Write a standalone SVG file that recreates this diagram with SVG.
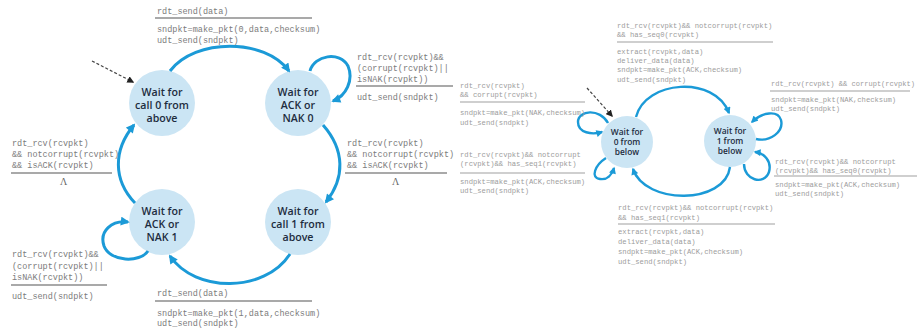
<svg xmlns="http://www.w3.org/2000/svg" width="918" height="331" viewBox="0 0 918 331">
  <style>
    .state { fill: #cbe5f4; }
    .sname { font-family: "Open Sans", "Liberation Sans", sans-serif; font-weight: 600; fill: #1e2c3e; text-anchor: middle; }
    .big { font-size: 10.6px; }
    .small { font-size: 8.4px; }
    .edge { fill: none; stroke: #1b9ad7; stroke-width: 3; }
    .edge2 { fill: none; stroke: #1b9ad7; stroke-width: 2.4; }
    .init { fill: none; stroke: #444; stroke-width: 1.2; stroke-dasharray: 3 2; }
    .lbl { font-family: "Liberation Mono", "DejaVu Sans Mono", monospace; font-size: 8.5px; fill: #7c7c7c; }
    .lbl2 { font-family: "Liberation Mono", "DejaVu Sans Mono", monospace; font-size: 7.2px; fill: #9c9c9c; }
    .rule { stroke: #8c8c8c; stroke-width: 1.3; }
    .rule2 { stroke: #a0a0a0; stroke-width: 1.1; }
    .lam { font-family: "Liberation Serif", serif; font-size: 10px; fill: #666; }
  </style>
  <defs>
    <marker id="ah" viewBox="0 0 10 10" refX="8" refY="5" markerWidth="10" markerHeight="9" markerUnits="userSpaceOnUse" orient="auto">
      <path d="M0,0 L10,5 L0,10 z" fill="#1b9ad7"/>
    </marker>
    <marker id="ahs" viewBox="0 0 10 10" refX="8" refY="5" markerWidth="8" markerHeight="7" markerUnits="userSpaceOnUse" orient="auto">
      <path d="M0,0 L10,5 L0,10 z" fill="#1b9ad7"/>
    </marker>
    <marker id="ahk" viewBox="0 0 10 10" refX="8" refY="5" markerWidth="7" markerHeight="7" markerUnits="userSpaceOnUse" orient="auto">
      <path d="M0,0 L10,5 L0,10 z" fill="#222"/>
    </marker>
  </defs>

  <!-- sender states -->
  <g id="wait-call-0">
    <circle class="state" cx="162" cy="103" r="33"/>
    <text class="sname big" x="162" y="96">Wait for</text>
    <text class="sname big" x="162" y="109">call 0 from</text>
    <text class="sname big" x="162" y="122">above</text>
  </g>
  <g id="wait-ack-0">
    <circle class="state" cx="298" cy="103" r="33"/>
    <text class="sname big" x="298" y="96">Wait for</text>
    <text class="sname big" x="298" y="109">ACK or</text>
    <text class="sname big" x="298" y="122">NAK 0</text>
  </g>
  <g id="wait-call-1">
    <circle class="state" cx="298" cy="222" r="33"/>
    <text class="sname big" x="298" y="215">Wait for</text>
    <text class="sname big" x="298" y="228">call 1 from</text>
    <text class="sname big" x="298" y="241">above</text>
  </g>
  <g id="wait-ack-1">
    <circle class="state" cx="162" cy="222" r="33"/>
    <text class="sname big" x="162" y="215">Wait for</text>
    <text class="sname big" x="162" y="228">ACK or</text>
    <text class="sname big" x="162" y="241">NAK 1</text>
  </g>

  <!-- receiver states -->
  <g id="wait-0-below">
    <circle class="state" cx="627" cy="142" r="26"/>
    <text class="sname small" x="627" y="135">Wait for</text>
    <text class="sname small" x="627" y="145">0 from</text>
    <text class="sname small" x="627" y="155">below</text>
  </g>
  <g id="wait-1-below">
    <circle class="state" cx="730" cy="141" r="26"/>
    <text class="sname small" x="730" y="134">Wait for</text>
    <text class="sname small" x="730" y="144">1 from</text>
    <text class="sname small" x="730" y="154">below</text>
  </g>

  <!-- transitions -->
  <g id="connectors">
    <path class="init" d="M92,61 L133,82" marker-end="url(#ahk)"/>
    <path class="edge" d="M170,71 C195,38 265,38 289,71" marker-end="url(#ah)"/>
    <path class="edge" d="M310,71 C314,55 340,51 348,66 C354,80 346,96 333,101" marker-end="url(#ah)"/>
    <path class="edge" d="M323,125 C345,150 345,178 326,202" marker-end="url(#ah)"/>
    <path class="edge" d="M290,254 C265,293 195,293 170,256" marker-end="url(#ah)"/>
    <path class="edge" d="M148,251 C140,263 110,262 104,246 C99,231 112,220 128,222" marker-end="url(#ah)"/>
    <path class="edge" d="M135,203 C113,180 113,150 134,125" marker-end="url(#ah)"/>

    <path class="init" d="M587,88 L612,116" marker-end="url(#ahk)"/>
    <path class="edge2" d="M636,117 C645,80 715,75 729,113" marker-end="url(#ahs)"/>
    <path class="edge2" d="M730,167 C725,205 645,205 633,169" marker-end="url(#ahs)"/>
    <path class="edge2" d="M608,123 C600,108 578,110 578,122 C578,133 592,135 602,132" marker-end="url(#ahs)"/>
    <path class="edge2" d="M606,158 C595,165 590,178 600,179 C607,180 612,175 614,168" marker-end="url(#ahs)"/>
    <path class="edge2" d="M756,139 C770,142 784,132 781,120 C778,110 762,112 752,122" marker-end="url(#ahs)"/>
    <path class="edge2" d="M744,164 C744,180 764,186 769,172 C772,161 764,153 755,152" marker-end="url(#ahs)"/>
  </g>

  <!-- sender transition labels -->
  <g id="sender-labels">
    <text class="lbl" x="157" y="14">rdt_send(data)</text>
    <line class="rule" x1="155" y1="18" x2="312" y2="18"/>
    <text class="lbl" x="157" y="32">sndpkt=make_pkt(0,data,checksum)</text>
    <text class="lbl" x="157" y="43">udt_send(sndpkt)</text>

    <text class="lbl" x="357" y="60">rdt_rcv(rcvpkt)&amp;&amp;</text>
    <text class="lbl" x="357" y="71">(corrupt(rcvpkt)||</text>
    <text class="lbl" x="357" y="82">isNAK(rcvpkt))</text>
    <line class="rule" x1="356" y1="86" x2="453" y2="86"/>
    <text class="lbl" x="357" y="100">udt_send(sndpkt)</text>

    <text class="lbl" x="347" y="146">rdt_rcv(rcvpkt)</text>
    <text class="lbl" x="347" y="157">&amp;&amp; notcorrupt(rcvpkt)</text>
    <text class="lbl" x="347" y="168">&amp;&amp; isACK(rcvpkt)</text>
    <line class="rule" x1="345" y1="173" x2="447" y2="173"/>
    <text class="lam" x="392" y="185">Λ</text>

    <text class="lbl" x="12" y="146">rdt_rcv(rcvpkt)</text>
    <text class="lbl" x="12" y="157">&amp;&amp; notcorrupt(rcvpkt)</text>
    <text class="lbl" x="12" y="168">&amp;&amp; isACK(rcvpkt)</text>
    <line class="rule" x1="11" y1="173" x2="112" y2="173"/>
    <text class="lam" x="60" y="185">Λ</text>

    <text class="lbl" x="12" y="257">rdt_rcv(rcvpkt)&amp;&amp;</text>
    <text class="lbl" x="12" y="269">(corrupt(rcvpkt)||</text>
    <text class="lbl" x="12" y="280">isNAK(rcvpkt))</text>
    <line class="rule" x1="11" y1="285" x2="107" y2="285"/>
    <text class="lbl" x="12" y="299">udt_send(sndpkt)</text>

    <text class="lbl" x="157" y="296">rdt_send(data)</text>
    <line class="rule" x1="155" y1="301" x2="312" y2="301"/>
    <text class="lbl" x="157" y="316">sndpkt=make_pkt(1,data,checksum)</text>
    <text class="lbl" x="157" y="326">udt_send(sndpkt)</text>
  </g>

  <!-- receiver transition labels -->
  <g id="receiver-labels">
    <text class="lbl2" x="617" y="28">rdt_rcv(rcvpkt)&amp;&amp; notcorrupt(rcvpkt)</text>
    <text class="lbl2" x="617" y="37"> &amp;&amp; has_seq0(rcvpkt)</text>
    <line class="rule2" x1="617" y1="42" x2="773" y2="42"/>
    <text class="lbl2" x="617" y="54">extract(rcvpkt,data)</text>
    <text class="lbl2" x="617" y="63">deliver_data(data)</text>
    <text class="lbl2" x="617" y="72">sndpkt=make_pkt(ACK,checksum)</text>
    <text class="lbl2" x="617" y="82">udt_send(sndpkt)</text>

    <text class="lbl2" x="460" y="88">rdt_rcv(rcvpkt)</text>
    <text class="lbl2" x="460" y="97"> &amp;&amp; corrupt(rcvpkt)</text>
    <line class="rule2" x1="460" y1="102" x2="585" y2="102"/>
    <text class="lbl2" x="460" y="115">sndpkt=make_pkt(NAK,checksum)</text>
    <text class="lbl2" x="460" y="125">udt_send(sndpkt)</text>

    <text class="lbl2" x="460" y="157">rdt_rcv(rcvpkt)&amp;&amp; notcorrupt</text>
    <text class="lbl2" x="460" y="166">(rcvpkt)&amp;&amp; has_seq1(rcvpkt)</text>
    <line class="rule2" x1="460" y1="173" x2="585" y2="173"/>
    <text class="lbl2" x="460" y="184">sndpkt=make_pkt(ACK,checksum)</text>
    <text class="lbl2" x="460" y="193">udt_send(sndpkt)</text>

    <text class="lbl2" x="771" y="86" textLength="144" lengthAdjust="spacingAndGlyphs">rdt_rcv(rcvpkt) &amp;&amp; corrupt(rcvpkt)</text>
    <line class="rule2" x1="770" y1="91" x2="910" y2="91"/>
    <text class="lbl2" x="771" y="102">sndpkt=make_pkt(NAK,checksum)</text>
    <text class="lbl2" x="771" y="111">udt_send(sndpkt)</text>

    <text class="lbl2" x="775" y="164">rdt_rcv(rcvpkt)&amp;&amp; notcorrupt</text>
    <text class="lbl2" x="775" y="173">(rcvpkt)&amp;&amp; has_seq0(rcvpkt)</text>
    <line class="rule2" x1="774" y1="176" x2="917" y2="176"/>
    <text class="lbl2" x="775" y="187">sndpkt=make_pkt(ACK,checksum)</text>
    <text class="lbl2" x="775" y="196">udt_send(sndpkt)</text>

    <text class="lbl2" x="618" y="210">rdt_rcv(rcvpkt)&amp;&amp; notcorrupt(rcvpkt)</text>
    <text class="lbl2" x="618" y="220">&amp;&amp; has_seq1(rcvpkt)</text>
    <line class="rule2" x1="618" y1="224" x2="775" y2="224"/>
    <text class="lbl2" x="618" y="234">extract(rcvpkt,data)</text>
    <text class="lbl2" x="618" y="244">deliver_data(data)</text>
    <text class="lbl2" x="618" y="254">sndpkt=make_pkt(ACK,checksum)</text>
    <text class="lbl2" x="618" y="264">udt_send(sndpkt)</text>
  </g>
</svg>
